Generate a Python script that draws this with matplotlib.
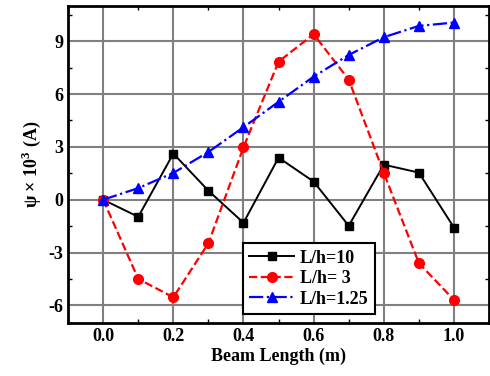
import numpy as np
import matplotlib
matplotlib.use("Agg")
import matplotlib.pyplot as plt
from matplotlib.ticker import MultipleLocator

plt.rcParams["font.family"] = ["Liberation Serif", "DejaVu Serif"]
plt.rcParams["mathtext.fontset"] = "custom"
plt.rcParams["mathtext.rm"] = "Liberation Serif:bold"
plt.rcParams["mathtext.bf"] = "Liberation Serif:bold"

# ── data ──────────────────────────────────────────────────────────────────────
x = [0.0, 0.1, 0.2, 0.3, 0.4, 0.5, 0.6, 0.7, 0.8, 0.9, 1.0]
lh10 = [0.0, -0.97, 2.62, 0.51, -1.31, 2.39, 1.03, -1.48, 1.99, 1.54, -1.58]
lh3 = [0.0, -4.5, -5.54, -2.47, 2.98, 7.84, 9.4, 6.82, 1.52, -3.6, -5.69]
lh125 = [0.0, 0.66, 1.52, 2.71, 4.12, 5.56, 6.99, 8.22, 9.23, 9.87, 10.06]
labels = ["L/h=10", "L/h= 3", "L/h=1.25"]

fig = plt.figure(figsize=(4.9, 3.76), dpi=100)
ax = fig.add_axes([0.139, 0.141, 0.859, 0.843])

ax.plot(x, lh10, "-", color="black", marker="s", ms=6, lw=1.4, label=labels[0])
ax.plot(x, lh3, "--", color="red", marker="o", ms=7, lw=1.6, label=labels[1])
ax.plot(x, lh125, "-.", color="blue", marker="^", ms=7, lw=1.6, label=labels[2])

ax.set_xlim(-0.1, 1.1)
ax.set_ylim(-7, 11)
ax.xaxis.set_minor_locator(MultipleLocator(0.1))
ax.yaxis.set_minor_locator(MultipleLocator(1.5))
ax.set_xticks([0.0, 0.2, 0.4, 0.6, 0.8, 1.0])
ax.set_xticklabels(["0.0", "0.2", "0.4", "0.6", "0.8", "1.0"])
ax.set_yticks([-6, -3, 0, 3, 6, 9])
ax.set_yticklabels(["-6", "-3", "0", "3", "6", "9"])
ax.grid(True, which="major", color="#808080", lw=1.5)
ax.set_axisbelow(True)
ax.tick_params(which="both", direction="in", labelsize=13, width=1, top=True, right=True)
ax.tick_params(which="major", length=0)
ax.tick_params(which="minor", length=3)
for lab in ax.get_xticklabels() + ax.get_yticklabels():
    lab.set_fontweight("bold")
for sp in ax.spines.values():
    sp.set_linewidth(2)

ax.set_xlabel("Beam Length (m)", fontsize=13, fontweight="bold", labelpad=2)
ax.set_ylabel("ψ × 10$^{\\mathbf{3}}$ (A)", fontsize=13,
              fontweight="bold", labelpad=4)

leg = ax.legend(loc="lower left", bbox_to_anchor=(0.415, 0.028), borderaxespad=0,
                prop={"weight": "bold", "size": 13}, fancybox=False,
                framealpha=1, edgecolor="black", borderpad=0.35,
                labelspacing=0.2, handlelength=2.5, handletextpad=0.3)
leg.get_frame().set_linewidth(1.5)

fig.savefig("out.png", dpi=100)
